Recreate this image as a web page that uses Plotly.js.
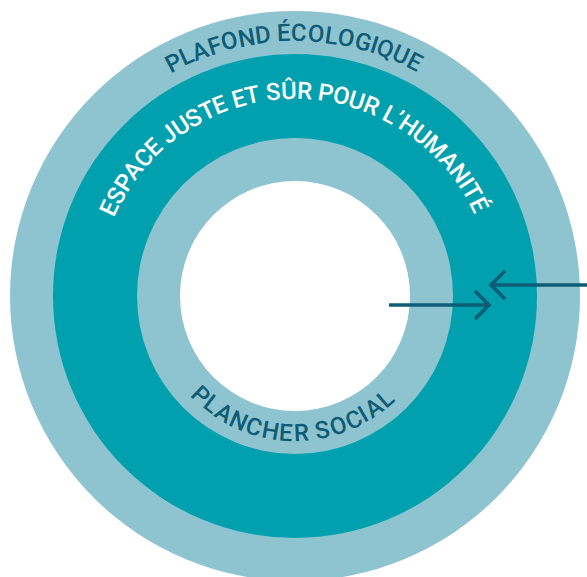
<!DOCTYPE html>
<html>
<head>
<meta charset="utf-8">
<script src="https://cdn.plot.ly/plotly-3.0.1.min.js"></script>
<style>html,body{margin:0;padding:0;background:#fff;}#chart{width:587px;height:577px;}</style>
</head>
<body>
<div id="chart"></div>
<script>
// ---- Data ----
const ringNames = ['Plafond écologique', 'Espace juste et sûr', 'Plancher social', 'Centre'];
const ringOuterRadius = [285, 242, 158, 115];
const ringColors = ['#8EC4CF', '#00A0AE', '#8EC4CF', '#FFFFFF'];

const labelTexts = ['PLAFOND ÉCOLOGIQUE', 'ESPACE JUSTE ET SÛR POUR L’HUMANITÉ', 'PLANCHER SOCIAL'];
const labelRadius = [263, 205, 137];
const labelStartDeg = [117.5, 154.7, -133.8];
const labelEndDeg = [62.9, 26.4, -48.6];
const labelColors = ['#0E5C75', '#FFFFFF', '#0E5C75'];

// arrows: tail / tip x and y relative to centre (y up)
const arrowTailX = [300, 94];
const arrowTipX = [196, 194];
const arrowY = [11, -9];

// ---- Layout ----
const W = 587, H = 577, cx = 295, cy = 296;
const FONT = 'Roboto, "Noto Sans", sans-serif';
const FS = 24;
const dark = '#0E5C75';

const shapes = [];
ringOuterRadius.forEach((r, i) => {
  shapes.push({type: 'circle', xref: 'x', yref: 'y', x0: -r, x1: r, y0: -r, y1: r,
    fillcolor: ringColors[i], line: {width: 0}, layer: 'below'});
});

const arm = 14;
arrowTipX.forEach((tip, i) => {
  const tail = arrowTailX[i], y = arrowY[i];
  const dir = Math.sign(tail - tip);
  const bx = tip + dir * arm;
  shapes.push({type: 'path', xref: 'x', yref: 'y',
    path: `M${tail},${y} L${tip},${y} M${bx},${y + arm} L${tip},${y} L${bx},${y - arm}`,
    line: {color: dark, width: 3.5}, layer: 'above'});
});

const canvas = document.createElement('canvas');
const ctx = canvas.getContext('2d');
ctx.font = `500 ${FS}px Roboto`;

const annotations = [];
labelTexts.forEach((txt, k) => {
  const chars = Array.from(txt);
  const w = chars.map(c => ctx.measureText(c).width);
  const n = chars.length;
  const r = labelRadius[k];
  const a0 = labelStartDeg[k], a1 = labelEndDeg[k];
  const span = Math.abs(a1 - a0) * Math.PI / 180 * r;
  const c0 = [];
  let acc = 0;
  for (let i = 0; i < n; i++) { c0.push(acc + w[i] / 2); acc += w[i]; }
  const base = c0[n - 1] - c0[0];
  const s = (span - base) / (n - 1);
  const sign = a1 < a0 ? -1 : 1;
  for (let i = 0; i < n; i++) {
    if (chars[i] === ' ') continue;
    const d = (c0[i] - c0[0]) + i * s;
    const th = a0 + sign * d / r * 180 / Math.PI;
    const rad = th * Math.PI / 180;
    const rot = sign < 0 ? 90 - th : -th - 90;
    annotations.push({xref: 'x', yref: 'y', x: r * Math.cos(rad), y: r * Math.sin(rad),
      text: chars[i], showarrow: false, textangle: rot,
      xanchor: 'center', yanchor: 'middle', borderpad: 0,
      font: {family: FONT, size: FS, color: labelColors[k], weight: 500}});
  }
});

const data = [{type: 'scatter', x: [], y: [], hoverinfo: 'skip', showlegend: false}];
const layout = {
  width: W, height: H,
  margin: {l: 0, r: 0, t: 0, b: 0},
  paper_bgcolor: '#ffffff', plot_bgcolor: '#ffffff',
  xaxis: {range: [-cx, W - cx], visible: false, fixedrange: true},
  yaxis: {range: [cy - H, cy], visible: false, fixedrange: true},
  shapes: shapes,
  annotations: annotations,
  showlegend: false
};
Plotly.newPlot('chart', data, layout, {staticPlot: true, displayModeBar: false});
</script>
</body>
</html>
